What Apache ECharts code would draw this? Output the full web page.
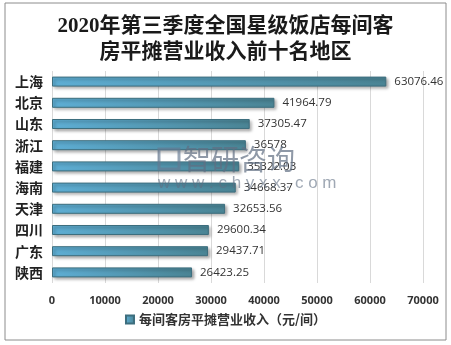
<!DOCTYPE html>
<html>
<head>
<meta charset="utf-8">
<script src="https://cdn.jsdelivr.net/npm/echarts@6/dist/echarts.min.js"></script>
<style>html,body{margin:0;padding:0;background:#fff}#c{width:451px;height:345px}</style>
</head>
<body>
<div id="c"></div>
<script>
const categories = ['上海','北京','山东','浙江','福建','海南','天津','四川','广东','陕西'];
const values = [63076.46, 41964.79, 37305.47, 36578, 35322.03, 34668.37, 32653.56, 29600.34, 29437.71, 26423.25];
const seriesName = '每间客房平摊营业收入（元/间）';
const titleText = '2020年第三季度全国星级饭店每间客\n房平摊营业收入前十名地区';
const xTicks = {min: 0, max: 70000, interval: 10000};

const chart = echarts.init(document.getElementById('c'), null, {renderer: 'canvas'});
const barColor = new echarts.graphic.LinearGradient(0, 0, 1, 0, [
  {offset: 0, color: '#5eaed4'},
  {offset: 1, color: '#4a8494'}
]);
chart.setOption({
  animation: false,
  backgroundColor: '#fff',
  title: {
    text: titleText,
    left: 'center',
    top: 9,
    textStyle: {
      fontFamily: '"Liberation Serif", "Noto Sans CJK SC", serif',
      fontSize: 21,
      fontWeight: 'bold',
      color: '#1a1a1a',
      lineHeight: 26
    }
  },
  graphic: [
    {type: 'rect', shape: {x: 5, y: 3, width: 441, height: 337}, style: {fill: 'none', stroke: '#8c8c8c', lineWidth: 1}, z: 0, silent: true},
    {type: 'rect', shape: {x: 159, y: 149, width: 20, height: 20}, style: {fill: 'none', stroke: 'rgba(100,120,145,0.65)', lineWidth: 3}, z: 100, silent: true},
    {type: 'text', left: 183, top: 145, style: {text: '智研咨询', font: '28px "Noto Sans CJK SC"', fill: 'rgba(95,110,130,0.7)'}, z: 100, silent: true},
    {type: 'text', left: 158, top: 175, style: {text: 'w w w . c h y x x . c o m', font: '17px "Liberation Sans"', fill: 'rgba(95,110,130,0.6)'}, z: 100, silent: true}
  ],
  grid: {left: 52, right: 28, top: 71, bottom: 62, containLabel: false},
  legend: {
    data: [seriesName],
    bottom: 14,
    left: 'center',
    icon: 'rect',
    itemWidth: 8,
    itemHeight: 8,
    itemGap: 4,
    textStyle: {fontSize: 13, color: '#333', fontFamily: '"Noto Sans CJK SC"', fontWeight: 'bold'}
  },
  xAxis: {
    type: 'value',
    min: xTicks.min,
    max: xTicks.max,
    interval: xTicks.interval,
    axisLine: {show: false},
    axisTick: {show: false},
    splitLine: {lineStyle: {color: '#d9d9d9', width: 1}},
    axisLabel: {fontSize: 11, color: '#333', fontWeight: 'bold', margin: 12, formatter: v => String(v), fontFamily: '"Open Sans", "Liberation Sans", sans-serif'}
  },
  yAxis: {
    type: 'category',
    data: categories,
    inverse: true,
    axisLine: {show: false},
    axisTick: {show: false},
    axisLabel: {fontSize: 14, color: '#222', fontWeight: 'bold', margin: 9, fontFamily: '"Noto Sans CJK SC"'}
  },
  series: [{
    name: seriesName,
    type: 'bar',
    data: values,
    barWidth: 10,
    itemStyle: {
      color: barColor,
      borderColor: '#3d6e7e',
      borderWidth: 1,
      shadowColor: 'rgba(0,0,0,0.35)',
      shadowBlur: 3,
      shadowOffsetX: 2,
      shadowOffsetY: 2
    },
    label: {
      show: true,
      position: 'right',
      distance: 8,
      fontSize: 11.5,
      color: '#333',
      fontFamily: '"Open Sans", "Liberation Sans", sans-serif'
    }
  }]
});
</script>
</body>
</html>
